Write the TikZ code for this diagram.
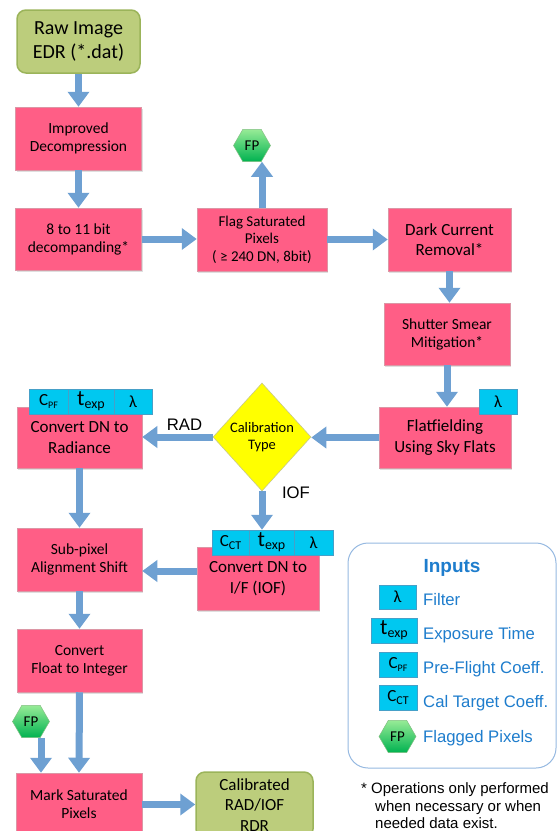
\documentclass[tikz,border=0pt]{standalone}
\usepackage{fontspec}
\setmainfont{Carlito}
\newfontfamily\arialf{Liberation Sans}
\usetikzlibrary{shapes.geometric,arrows.meta,shadows}
\definecolor{pinkc}{RGB}{255,94,134}
\definecolor{pinkd}{RGB}{220,150,165}
\definecolor{greenc}{RGB}{188,205,124}
\definecolor{greend}{RGB}{155,180,90}
\definecolor{cyanc}{RGB}{0,200,240}
\definecolor{cyand}{RGB}{70,160,200}
\definecolor{arrc}{RGB}{110,160,210}
\definecolor{yelc}{RGB}{255,255,0}
\definecolor{yeld}{RGB}{200,200,140}
\definecolor{hexlight}{RGB}{150,235,150}
\definecolor{hexdark}{RGB}{0,178,80}
\definecolor{hexd}{RGB}{130,190,130}
\definecolor{legc}{RGB}{30,125,205}
\definecolor{legd}{RGB}{150,185,225}
\newcommand{\mycpf}{C\raisebox{-3pt}{\fontsize{10}{10}\selectfont PF}}
\newcommand{\mycct}{C\raisebox{-3pt}{\fontsize{12}{12}\selectfont CT}}
\newcommand{\mytexp}{{\fontsize{22}{22}\selectfont t}\raisebox{-3pt}{\fontsize{14}{14}\selectfont exp}}
\begin{document}
\begin{tikzpicture}[x=1pt,y=-1pt,
 proc/.style={rectangle, fill=pinkc, draw=pinkd, line width=0.5pt, align=center, inner sep=0pt,
   drop shadow={shadow xshift=1pt, shadow yshift=-1.5pt, opacity=0.25}},
 fsmall/.style={font=\fontsize{15.5}{18}\selectfont},
 fbig/.style={font=\fontsize{17}{20.5}\selectfont},
 term/.style={rectangle, rounded corners=9pt, fill=greenc, draw=greend, line width=1.5pt, align=center, inner sep=0pt},
 tab/.style={rectangle, fill=cyanc, draw=cyand, line width=0.5pt, inner sep=0pt, minimum height=25pt, font=\fontsize{17}{17}\selectfont},
 hexa/.style={regular polygon, regular polygon sides=6, minimum size=37pt, inner sep=0pt, top color=hexlight, bottom color=hexdark, draw=hexd, line width=0.5pt, font=\fontsize{15}{15}\selectfont},
 arr/.style={draw=arrc, line width=7pt, -{Triangle[width=21pt,length=15pt]}},
 lbl/.style={font=\arialf\fontsize{16.7}{20}\selectfont, inner sep=0pt},
 legt/.style={font=\arialf\fontsize{16.7}{20}\selectfont, text=legc, inner sep=0pt, anchor=base west},
 foot/.style={font=\arialf\fontsize{15}{15}\selectfont, inner sep=0pt, anchor=base west},
 ]
\useasboundingbox (0,0) rectangle (557,831);
% main boxes
\node[term, minimum width=123pt, minimum height=63pt, font=\fontsize{20}{24.5}\selectfont] (raw) at (78.5,41.5) {Raw Image\\EDR (*.dat)};
\node[proc, fsmall, minimum width=126pt, minimum height=63pt] (imp) at (78.5,138.5) {Improved\\Decompression};
\node[proc, fsmall, minimum width=126pt, minimum height=62pt] (eight) at (78.5,239) {8 to 11 bit\\decompanding*};
\node[proc, font=\fontsize{15}{17.5}\selectfont, minimum width=130pt, minimum height=63pt] (flag) at (262,239.5) {Flag Saturated\\Pixels\\( ≥ 240 DN, 8bit)};
\node[proc, fbig, minimum width=123pt, minimum height=63pt] (dark) at (449.5,239.5) {Dark Current\\Removal*};
\node[proc, fsmall, minimum width=126pt, minimum height=62pt] (shut) at (447,334) {Shutter Smear\\Mitigation*};
\node[proc, fbig, minimum width=132pt, minimum height=61pt] (flat) at (445,437.5) {Flatfielding\\Using Sky Flats};
\node[tab, minimum width=38pt] (flatl) at (498,402) {λ};
\node[diamond, fill=yelc, draw=yeld, line width=0.6pt, minimum width=98pt, minimum height=108pt, inner sep=0pt, align=center, font=\fontsize{14.5}{17}\selectfont] (dia) at (262,437) {Calibration\\Type};
\node[proc, fbig, minimum width=125pt, minimum height=61pt] (rad) at (79.5,437.5) {Convert DN to\\Radiance};
\node[tab, minimum width=39pt] (cpf) at (48.5,401.5) {\mycpf};
\node[tab, minimum width=46pt] (tr) at (91,401.5) {\mytexp};
\node[tab, minimum width=38pt] (lr) at (133,401.5) {λ};
\node[proc, fbig, minimum width=122pt, minimum height=63pt] (iof) at (258,578.5) {Convert DN to\\I/F (IOF)};
\node[tab, minimum width=37pt] (cct) at (230.5,542.5) {\mycct};
\node[tab, minimum width=45pt] (ti) at (271.5,542.5) {\mytexp};
\node[tab, minimum width=39pt] (li) at (313.5,542.5) {λ};
\node[proc, fsmall, minimum width=125pt, minimum height=63pt] (sub) at (79.5,559.5) {Sub-pixel\\Alignment Shift};
\node[proc, fsmall, minimum width=125pt, minimum height=63pt] (flt) at (79.5,660.5) {Convert\\Float to Integer};
\node[proc, fsmall, minimum width=126pt, minimum height=63pt] (mark) at (79,804.5) {Mark Saturated\\Pixels};
\node[term, fbig, minimum width=117pt, minimum height=66pt] (cal) at (254.5,805) {Calibrated\\RAD/IOF\\RDR};
\node[hexa] (fpa) at (252,145.5) {FP};
\node[hexa] (fpb) at (31,721.5) {FP};
% labels
\node[lbl, anchor=base] (radl) at (184.5,430) {RAD};
\node[lbl, anchor=base] (iofl) at (296,498) {IOF};
% arrows
\draw[arr] (raw.south) -- (imp.north);
\draw[arr] (imp.south) -- (eight.north);
\draw[arr] (eight.east) -- (eight.east -| flag.west);
\draw[arr] (flag.north) -- (flag.north |- fpa.south);
\draw[arr] (flag.east) -- (flag.east -| dark.west);
\draw[arr] (dark.south) -- (dark.south |- shut.north);
\draw[arr] (shut.south) -- (shut.south |- flat.north);
\draw[arr] (flat.west) -- (flat.west -| dia.east);
\draw[arr] (dia.west) -- (dia.west -| rad.east);
\draw[arr] (dia.south) -- (dia.south |- ti.north);
\draw[arr] (rad.south) -- (sub.north);
\coordinate (iw) at ([yshift=7.5pt]iof.west);
\draw[arr] (iw) -- (iw -| sub.east);
\draw[arr] (sub.south) -- (flt.north);
\draw[arr] (flt.south) -- (mark.north);
\coordinate (fpo) at ([xshift=10pt]fpb.south);
\draw[arr] (fpo) -- (fpo |- mark.north);
\draw[arr] (mark.east) -- (mark.east -| cal.west);
% legend
\node[draw=legd, line width=1pt, rounded corners=20pt, minimum width=208pt, minimum height=225pt, fill=white] (leg) at (452,655.5) {};
\node[font=\arialf\bfseries\fontsize{19}{19}\selectfont, text=legc, anchor=base, inner sep=0pt] (legtitle) at (452,572) {Inputs};
\node[tab, minimum width=37pt, minimum height=24pt] (lgl) at (397.5,597) {λ};
\node[tab, minimum width=46pt] (lgt) at (394,630.5) {\mytexp};
\node[tab, minimum width=38pt] (lgp) at (398,664.5) {\mycpf};
\node[tab, minimum width=38pt] (lgc) at (398,697.5) {\mycct};
\node[hexa] (lgf) at (397.5,736.5) {FP};
\node[legt] (lt1) at (423,605) {Filter};
\node[legt] (lt2) at (423,639) {Exposure Time};
\node[legt] (lt3) at (423,673) {Pre-Flight Coeff.};
\node[legt] (lt4) at (423,707) {Cal Target Coeff.};
\node[legt] (lt5) at (423,742) {Flagged Pixels};
% footnote
\node[foot] (fn1) at (361,793) {* Operations only performed};
\node[foot] (fn2) at (375,811) {when necessary or when};
\node[foot] (fn3) at (375,828) {needed data exist.};
\end{tikzpicture}
\end{document}
